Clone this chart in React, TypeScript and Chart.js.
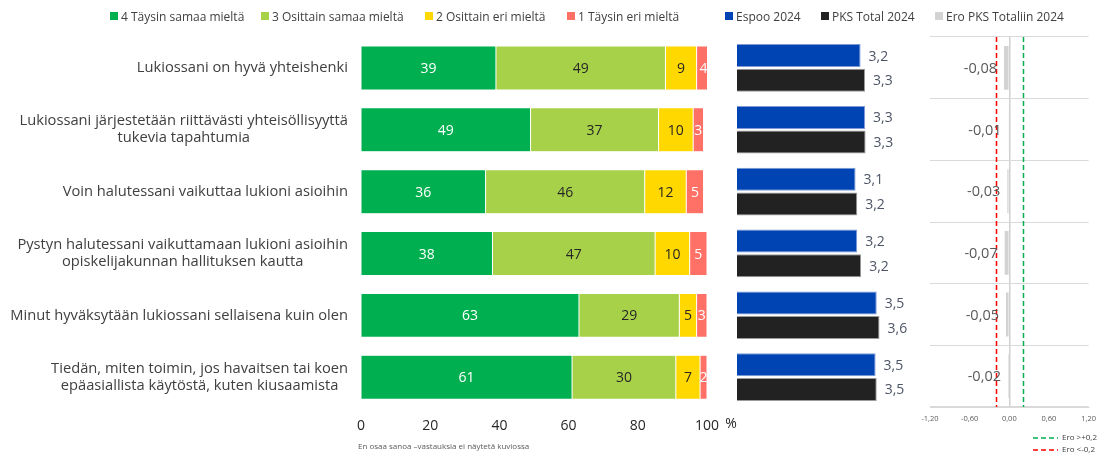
import React, { useEffect, useRef } from "react";
import { Chart, registerables } from "chart.js";
Chart.register(...registerables);

const categories: string[][] = [
  ["Lukiossani on hyvä yhteishenki"],
  ["Lukiossani järjestetään riittävästi yhteisöllisyyttä", "tukevia tapahtumia"],
  ["Voin halutessani vaikuttaa lukioni asioihin"],
  ["Pystyn halutessani vaikuttamaan lukioni asioihin", "opiskelijakunnan hallituksen kautta"],
  ["Minut hyväksytään lukiossani sellaisena kuin olen"],
  ["Tiedän, miten toimin, jos havaitsen tai koen", "epäasiallista käytöstä, kuten kiusaamista"],
];
const seriesNames = ["4 Täysin samaa mieltä", "3 Osittain samaa mieltä", "2 Osittain eri mieltä", "1 Täysin eri mieltä"];
const fullyAgree = [39, 49, 36, 38, 63, 61];
const partlyAgree = [49, 37, 46, 47, 29, 30];
const partlyDisagree = [9, 10, 12, 10, 5, 7];
const fullyDisagree = [4, 3, 5, 5, 3, 2];
const meanNames = ["Espoo 2024", "PKS Total 2024"];
const espoo2024 = [3.22, 3.3, 3.13, 3.16, 3.51, 3.49];
const pksTotal2024 = [3.3, 3.31, 3.16, 3.23, 3.56, 3.51];
const eroName = "Ero PKS Totaliin 2024";
const eroPks = [-0.08, -0.01, -0.03, -0.07, -0.05, -0.02];
const eroThresholds = [0.2, -0.2];
const eroThresholdLabels = ["Ero >+0,2", "Ero <-0,2"];
const percentTicks = [0, 20, 40, 60, 80, 100];
const eroTicks = [-1.2, -0.6, 0, 0.6, 1.2];
const footnote = "En osaa sanoa –vastauksia ei näytetä kuviossa";

const FONT = '"Open Sans", "Noto Sans", sans-serif';
const W = 1103;
const H = 454;
const AREA_TOP = 37;
const AREA_BOTTOM = 408;

const stackColors = ["#00AF50", "#A8D14A", "#FFD800", "#FF7066"];
const stackLabelColors = ["#ffffff", "#262626", "#262626", "#ffffff"];
const meanColors = ["#0044B4", "#222222"];
const meanBorders = ["#7D9AD6", "#9A9A9A"];
const eroColor = "#D3D3D3";
const thresholdColors = ["#00B050", "#FF0000"];

const fmt1 = (v: number) => v.toFixed(1).replace(".", ",");
const fmt2 = (v: number) => v.toFixed(2).replace(".", ",");

const legendItems = [
  { label: seriesNames[0], color: stackColors[0], left: 110 },
  { label: seriesNames[1], color: stackColors[1], left: 261 },
  { label: seriesNames[2], color: stackColors[2], left: 425 },
  { label: seriesNames[3], color: stackColors[3], left: 567 },
  { label: meanNames[0], color: meanColors[0], left: 725 },
  { label: meanNames[1], color: meanColors[1], left: 821 },
  { label: eroName, color: eroColor, left: 935 },
];

function useChart(ref: React.RefObject<HTMLCanvasElement>, makeConfig: () => any) {
  useEffect(() => {
    if (!ref.current) return;
    const chart = new Chart(ref.current, makeConfig());
    return () => chart.destroy();
  }, []);
}

export default function App() {
  const refA = useRef<HTMLCanvasElement>(null);
  const refB = useRef<HTMLCanvasElement>(null);
  const refC = useRef<HTMLCanvasElement>(null);
  const labels = categories.map((l) => l.join(" "));

  useEffect(() => {
    document.body.style.margin = "0";
  }, []);

  // Chart A: stacked 100% bars
  useChart(refA, () => ({
    type: "bar",
    data: {
      labels,
      datasets: [fullyAgree, partlyAgree, partlyDisagree, fullyDisagree].map((d, i) => ({
        label: seriesNames[i],
        data: d,
        backgroundColor: stackColors[i],
        borderColor: "rgba(255,255,255,0.6)",
        borderWidth: 0.5,
        borderSkipped: false,
        categoryPercentage: 0.71,
        barPercentage: 1,
      })),
    },
    options: {
      indexAxis: "y",
      responsive: false,
      animation: false,
      layout: { padding: { left: 361, right: W - 707, top: AREA_TOP, bottom: 19 } },
      plugins: { legend: { display: false }, tooltip: { enabled: false } },
      scales: {
        x: {
          stacked: true,
          min: 0,
          max: 100,
          afterBuildTicks: (s: any) => {
            s.ticks = percentTicks.map((v) => ({ value: v }));
          },
          grid: { display: false },
          border: { display: false },
          ticks: { color: "#262626", font: { family: FONT, size: 14 }, padding: 1, maxRotation: 0 },
        },
        y: { stacked: true, display: false },
      },
    },
    plugins: [
      {
        id: "labelsA",
        afterDatasetsDraw(chart: any) {
          const ctx = chart.ctx;
          ctx.save();
          ctx.font = `14px ${FONT}`;
          ctx.textAlign = "center";
          ctx.textBaseline = "middle";
          chart.data.datasets.forEach((ds: any, di: number) => {
            const meta = chart.getDatasetMeta(di);
            meta.data.forEach((el: any, i: number) => {
              const p = el.getCenterPoint();
              ctx.fillStyle = stackLabelColors[di];
              ctx.fillText(String(ds.data[i]), p.x, p.y + 1);
            });
          });
          ctx.restore();
        },
        afterDraw(chart: any) {
          const ctx = chart.ctx;
          const y = chart.scales.y;
          const x = chart.scales.x;
          ctx.save();
          ctx.font = `14.7px ${FONT}`;
          ctx.fillStyle = "#404040";
          ctx.textAlign = "center";
          ctx.textBaseline = "middle";
          const right = chart.chartArea.left - 13;
          categories.forEach((lines, i) => {
            const cy = y.getPixelForValue(i);
            const w = Math.max(...lines.map((l) => ctx.measureText(l).width));
            const cx = right - w / 2;
            lines.forEach((l, j) => ctx.fillText(l, cx, cy + (j - (lines.length - 1) / 2) * 17));
          });
          ctx.font = `14px ${FONT}`;
          ctx.fillStyle = "#262626";
          ctx.fillText("%", x.right + 24, chart.chartArea.bottom + 16);
          ctx.restore();
        },
      },
    ],
  }));

  // Chart B: means
  useChart(refB, () => ({
    type: "bar",
    data: {
      labels,
      datasets: [espoo2024, pksTotal2024].map((d, i) => ({
        label: meanNames[i],
        data: d,
        backgroundColor: meanColors[i],
        borderColor: meanBorders[i],
        borderWidth: 1,
        borderSkipped: false,
        categoryPercentage: 0.8,
        barPercentage: 0.93,
      })),
    },
    options: {
      indexAxis: "y",
      responsive: false,
      animation: false,
      layout: { padding: { left: 737, right: W - 904, top: AREA_TOP, bottom: H - AREA_BOTTOM } },
      plugins: { legend: { display: false }, tooltip: { enabled: false } },
      scales: {
        x: { min: 1, max: 4, display: false },
        y: { display: false },
      },
    },
    plugins: [
      {
        id: "labelsB",
        afterDatasetsDraw(chart: any) {
          const ctx = chart.ctx;
          ctx.save();
          ctx.font = `14px ${FONT}`;
          ctx.textAlign = "left";
          ctx.textBaseline = "middle";
          ctx.fillStyle = "#4d5566";
          chart.data.datasets.forEach((ds: any, di: number) => {
            const meta = chart.getDatasetMeta(di);
            meta.data.forEach((el: any, i: number) => {
              ctx.fillText(fmt1(ds.data[i]), el.x + 8, el.y + 1);
            });
          });
          ctx.restore();
        },
      },
    ],
  }));

  // Chart C: difference
  useChart(refC, () => ({
    type: "bar",
    data: {
      labels,
      datasets: [
        {
          label: eroName,
          data: eroPks,
          backgroundColor: eroColor,
          borderWidth: 0,
          categoryPercentage: 0.71,
          barPercentage: 1,
        },
      ],
    },
    options: {
      indexAxis: "y",
      responsive: false,
      animation: false,
      layout: { padding: { left: 930, right: W - 1097, top: AREA_TOP, bottom: 24 } },
      plugins: { legend: { display: false }, tooltip: { enabled: false } },
      scales: {
        x: {
          min: -1.2,
          max: 1.2,
          afterBuildTicks: (s: any) => {
            s.ticks = eroTicks.map((v) => ({ value: v }));
          },
          grid: {
            drawTicks: false,
            color: (c: any) => (c.tick && Math.abs(c.tick.value) < 1e-9 ? "#D0D0D0" : "rgba(0,0,0,0)"),
            lineWidth: 1.5,
          },
          border: { display: true, color: "#D9D9D9", width: 1 },
          ticks: {
            color: "#595959",
            font: { family: FONT, size: 7.5 },
            padding: 7,
            maxRotation: 0,
            callback: (v: any) => fmt2(Number(v)),
          },
        },
        y: {
          grid: { offset: true, drawTicks: false, color: "#D9D9D9", lineWidth: 1 },
          border: { display: false },
          ticks: { display: false },
        },
      },
    },
    plugins: [
      {
        id: "labelsC",
        afterDatasetsDraw(chart: any) {
          const ctx = chart.ctx;
          const x = chart.scales.x;
          const area = chart.chartArea;
          ctx.save();
          ctx.lineWidth = 1.5;
          ctx.setLineDash([5, 3]);
          eroThresholds.forEach((t, i) => {
            const px = Math.round(x.getPixelForValue(t)) + 0.5;
            ctx.strokeStyle = thresholdColors[i];
            ctx.beginPath();
            ctx.moveTo(px, area.top);
            ctx.lineTo(px, area.bottom);
            ctx.stroke();
          });
          ctx.setLineDash([]);
          ctx.font = `14.5px ${FONT}`;
          ctx.textAlign = "right";
          ctx.textBaseline = "middle";
          ctx.fillStyle = "#595959";
          const meta = chart.getDatasetMeta(0);
          meta.data.forEach((el: any, i: number) => {
            ctx.fillText(fmt2(eroPks[i]), el.x - 7, el.y + 1);
          });
          // threshold legend
          ctx.font = `8px ${FONT}`;
          ctx.textAlign = "left";
          ctx.fillStyle = "#404040";
          ctx.lineWidth = 1.5;
          ctx.setLineDash([5, 3]);
          eroThresholdLabels.forEach((lab, i) => {
            const ly = 438 + i * 12;
            ctx.strokeStyle = thresholdColors[i];
            ctx.beginPath();
            ctx.moveTo(1033, ly);
            ctx.lineTo(1058, ly);
            ctx.stroke();
            ctx.fillText(lab, 1062, ly);
          });
          ctx.restore();
        },
      },
    ],
  }));

  const canvasStyle: React.CSSProperties = { position: "absolute", left: 0, top: 0 };
  return (
    <div style={{ position: "fixed", left: 0, top: 0, width: W, height: H, background: "#fff", overflow: "hidden" }}>
      <canvas ref={refA} width={W} height={H} style={canvasStyle} />
      <canvas ref={refB} width={W} height={H} style={canvasStyle} />
      <canvas ref={refC} width={W} height={H} style={canvasStyle} />
      {legendItems.map((it, i) => (
        <div
          key={i}
          style={{
            position: "absolute",
            left: it.left,
            top: 8,
            height: 16,
            display: "flex",
            alignItems: "center",
            fontFamily: FONT,
            fontSize: 12,
            color: "#404040",
            whiteSpace: "nowrap",
          }}
        >
          <span style={{ display: "inline-block", width: 8, height: 8, background: it.color, marginRight: 3 }} />
          {it.label}
        </div>
      ))}
      <div
        style={{
          position: "absolute",
          left: 358,
          top: 440,
          fontFamily: FONT,
          fontSize: 8,
          color: "#595959",
          whiteSpace: "nowrap",
        }}
      >
        {footnote}
      </div>
    </div>
  );
}
